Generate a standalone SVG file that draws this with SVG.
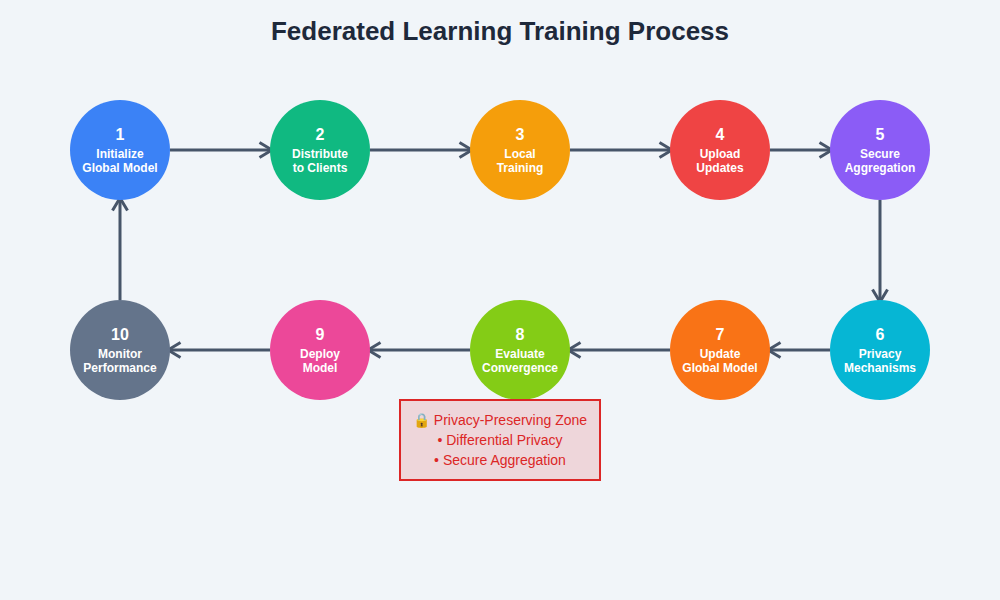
<svg xmlns="http://www.w3.org/2000/svg" width="1000" height="600" viewBox="0 0 1000 600">
<defs>
<style>
.t{font-family:"Liberation Sans",Arial,sans-serif;fill:#fff;text-anchor:middle;font-weight:bold}
.n{font-size:16px}
.l{font-size:12px}
.c{stroke:#475569;stroke-width:3;fill:none;marker-end:url(#ah)}
.z{font-family:"Liberation Sans",Arial,sans-serif;fill:#dc2626;font-size:14px;text-anchor:middle}
</style>
<marker id="ah" viewBox="0 0 16 18" refX="14" refY="9" markerWidth="16" markerHeight="18" markerUnits="userSpaceOnUse" orient="auto">
<path d="M1.5,1.5 L14,9 L1.5,16.5" fill="none" stroke="#475569" stroke-width="3"/>
</marker>
</defs>
<rect width="1000" height="600" fill="#f1f5f9"/>
<text x="500" y="40" font-family="Liberation Sans,Arial,sans-serif" font-size="26" font-weight="bold" fill="#1e293b" text-anchor="middle">Federated Learning Training Process</text>
<g id="connectors">
<line class="c" x1="170" y1="150" x2="272" y2="150"/>
<line class="c" x1="370" y1="150" x2="472" y2="150"/>
<line class="c" x1="570" y1="150" x2="672" y2="150"/>
<line class="c" x1="770" y1="150" x2="832" y2="150"/>
<line class="c" x1="880" y1="200" x2="880" y2="302"/>
<line class="c" x1="830" y1="350" x2="768" y2="350"/>
<line class="c" x1="670" y1="350" x2="568" y2="350"/>
<line class="c" x1="470" y1="350" x2="368" y2="350"/>
<line class="c" x1="270" y1="350" x2="168" y2="350"/>
<line class="c" x1="120" y1="300" x2="120" y2="198"/>
</g>
<g id="node1"><circle cx="120" cy="150" r="50" fill="#3b82f6"/><text class="t n" x="120" y="140">1</text><text class="t l" x="120" y="158">Initialize</text><text class="t l" x="120" y="172">Global Model</text></g>
<g id="node2"><circle cx="320" cy="150" r="50" fill="#10b981"/><text class="t n" x="320" y="140">2</text><text class="t l" x="320" y="158">Distribute</text><text class="t l" x="320" y="172">to Clients</text></g>
<g id="node3"><circle cx="520" cy="150" r="50" fill="#f59e0b"/><text class="t n" x="520" y="140">3</text><text class="t l" x="520" y="158">Local</text><text class="t l" x="520" y="172">Training</text></g>
<g id="node4"><circle cx="720" cy="150" r="50" fill="#ef4444"/><text class="t n" x="720" y="140">4</text><text class="t l" x="720" y="158">Upload</text><text class="t l" x="720" y="172">Updates</text></g>
<g id="node5"><circle cx="880" cy="150" r="50" fill="#8b5cf6"/><text class="t n" x="880" y="140">5</text><text class="t l" x="880" y="158">Secure</text><text class="t l" x="880" y="172">Aggregation</text></g>
<g id="node6"><circle cx="880" cy="350" r="50" fill="#06b6d4"/><text class="t n" x="880" y="340">6</text><text class="t l" x="880" y="358">Privacy</text><text class="t l" x="880" y="372">Mechanisms</text></g>
<g id="node7"><circle cx="720" cy="350" r="50" fill="#f97316"/><text class="t n" x="720" y="340">7</text><text class="t l" x="720" y="358">Update</text><text class="t l" x="720" y="372">Global Model</text></g>
<g id="node8"><circle cx="520" cy="350" r="50" fill="#84cc16"/><text class="t n" x="520" y="340">8</text><text class="t l" x="520" y="358">Evaluate</text><text class="t l" x="520" y="372">Convergence</text></g>
<g id="node9"><circle cx="320" cy="350" r="50" fill="#ec4899"/><text class="t n" x="320" y="340">9</text><text class="t l" x="320" y="358">Deploy</text><text class="t l" x="320" y="372">Model</text></g>
<g id="node10"><circle cx="120" cy="350" r="50" fill="#64748b"/><text class="t n" x="120" y="340">10</text><text class="t l" x="120" y="358">Monitor</text><text class="t l" x="120" y="372">Performance</text></g>
<g id="privacy-zone">
<rect x="400" y="400" width="200" height="80" fill="#dc2626" fill-opacity="0.15" stroke="#dc2626" stroke-width="2"/>
<text class="z" x="500" y="425">🔒 Privacy-Preserving Zone</text>
<text class="z" x="500" y="445">• Differential Privacy</text>
<text class="z" x="500" y="465">• Secure Aggregation</text>
</g>
</svg>
